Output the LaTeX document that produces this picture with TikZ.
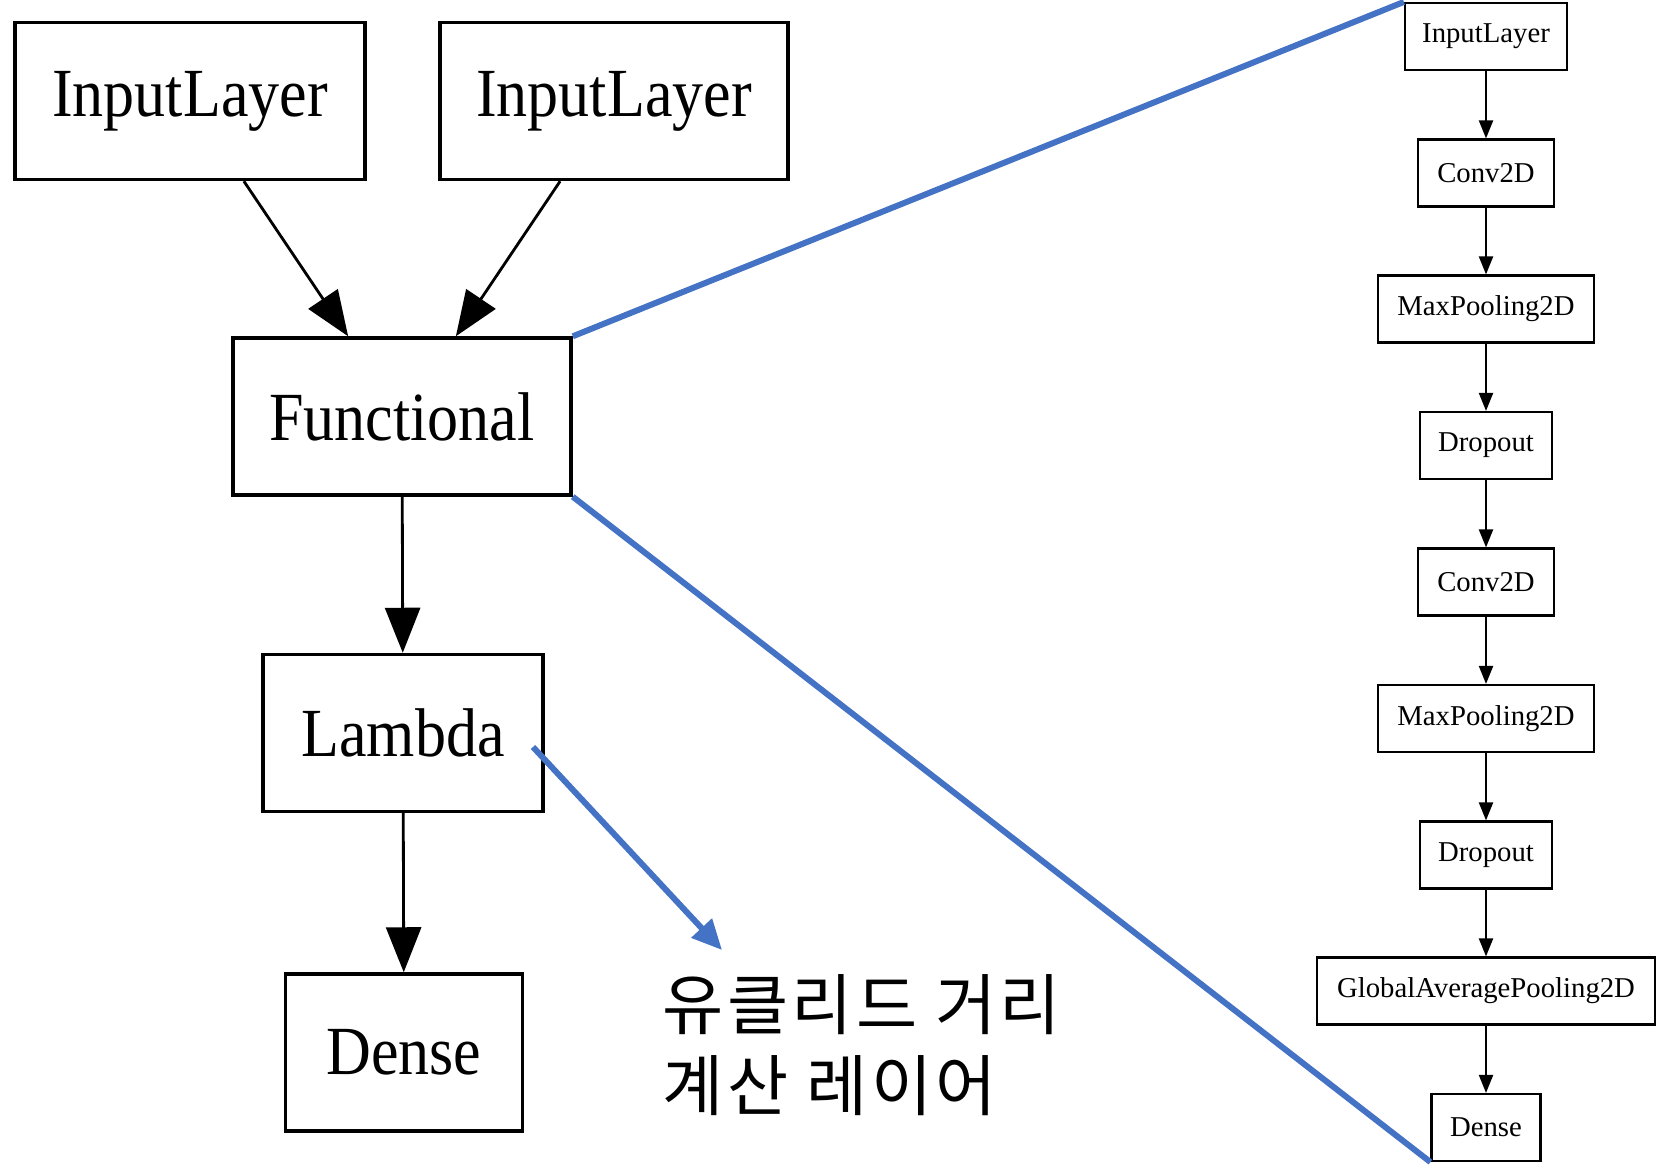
\documentclass[tikz,border=0pt]{standalone}
\usepackage{fontspec}
\usetikzlibrary{arrows.meta}
\setmainfont{Liberation Serif}
\newfontfamily\bigserif[FakeStretch=0.9]{Liberation Serif}
\newfontfamily\kofont[LetterSpace=5]{Noto Sans CJK KR}
\definecolor{zoomblue}{HTML}{4472C4}

\begin{document}
\begin{tikzpicture}[x=0.01cm,y=-0.01cm,
    bigbox/.style={draw,line width=0.95pt,minimum height=1.57cm,inner sep=0pt,
        font=\bigserif\fontsize{19.6}{24}\selectfont},
    smallbox/.style={draw,line width=0.6pt,minimum height=0.67cm,inner sep=0pt,
        font=\fontsize{8.17}{10}\selectfont},
    bigarrow/.style={line width=0.8pt,-{Triangle[length=0.45cm,width=0.35cm]}},
    smallarrow/.style={line width=0.6pt,-{Triangle[length=0.18cm,width=0.14cm]}},
    zoomline/.style={zoomblue,line width=1.7pt},
    kotext/.style={font=\kofont\fontsize{18.9}{23}\selectfont,align=left,inner sep=0pt}]
            \useasboundingbox (0,0) rectangle (1666,1167);

            \begin{scope}[every node/.style={bigbox}]
                \node[minimum width=3.5cm] (in1) at (190,101) {InputLayer};
                \node[minimum width=3.48cm] (in2) at (614,101) {InputLayer};
                \node[minimum width=3.38cm] (func) at (402,416.5) {Functional};
                \node[minimum width=2.8cm] (lam) at (403,733) {Lambda};
                \node[minimum width=2.37cm] (out) at (404,1052.5) {Dense};
            \end{scope}

            \begin{scope}[every node/.style={smallbox}]
                \node[minimum width=1.62cm] (r1) at (1486,36.5) {InputLayer};
                \node[minimum width=1.36cm] (r2) at (1486,173) {Conv2D};
                \node[minimum width=2.16cm] (r3) at (1486,309) {MaxPooling2D};
                \node[minimum width=1.32cm] (r4) at (1486,445.5) {Dropout};
                \node[minimum width=1.36cm] (r5) at (1486,582) {Conv2D};
                \node[minimum width=2.16cm] (r6) at (1486,718.5) {MaxPooling2D};
                \node[minimum width=1.32cm] (r7) at (1486,855) {Dropout};
                \node[minimum width=3.38cm] (r8) at (1486,991) {GlobalAveragePooling2D};
                \node[minimum width=1.09cm] (r9) at (1486,1127.5) {Dense};
            \end{scope}

            \node[kotext,anchor=north west] (note) at (662,974) {유클리드 거리\\계산 레이어};
            \coordinate (lamtail) at (533,747);
            \coordinate (notehead) at (722,950);

            \begin{scope}
                \path [bigarrow] (in1) edge (func);
                \path [bigarrow] (in2) edge (func);
                \path [bigarrow] (func) edge (lam);
                \path [bigarrow] (lam) edge (out);

                \path [smallarrow] (r1) edge (r2);
                \path [smallarrow] (r2) edge (r3);
                \path [smallarrow] (r3) edge (r4);
                \path [smallarrow] (r4) edge (r5);
                \path [smallarrow] (r5) edge (r6);
                \path [smallarrow] (r6) edge (r7);
                \path [smallarrow] (r7) edge (r8);
                \path [smallarrow] (r8) edge (r9);

                \draw [zoomline] (func.north east) -- (r1.north west);
                \draw [zoomline] (func.south east) -- (r9.south west);
                \draw [zoomline,-{Triangle[length=0.3cm,width=0.27cm]}] (lamtail) -- (notehead);
            \end{scope}
            \end{tikzpicture}
\end{document}
